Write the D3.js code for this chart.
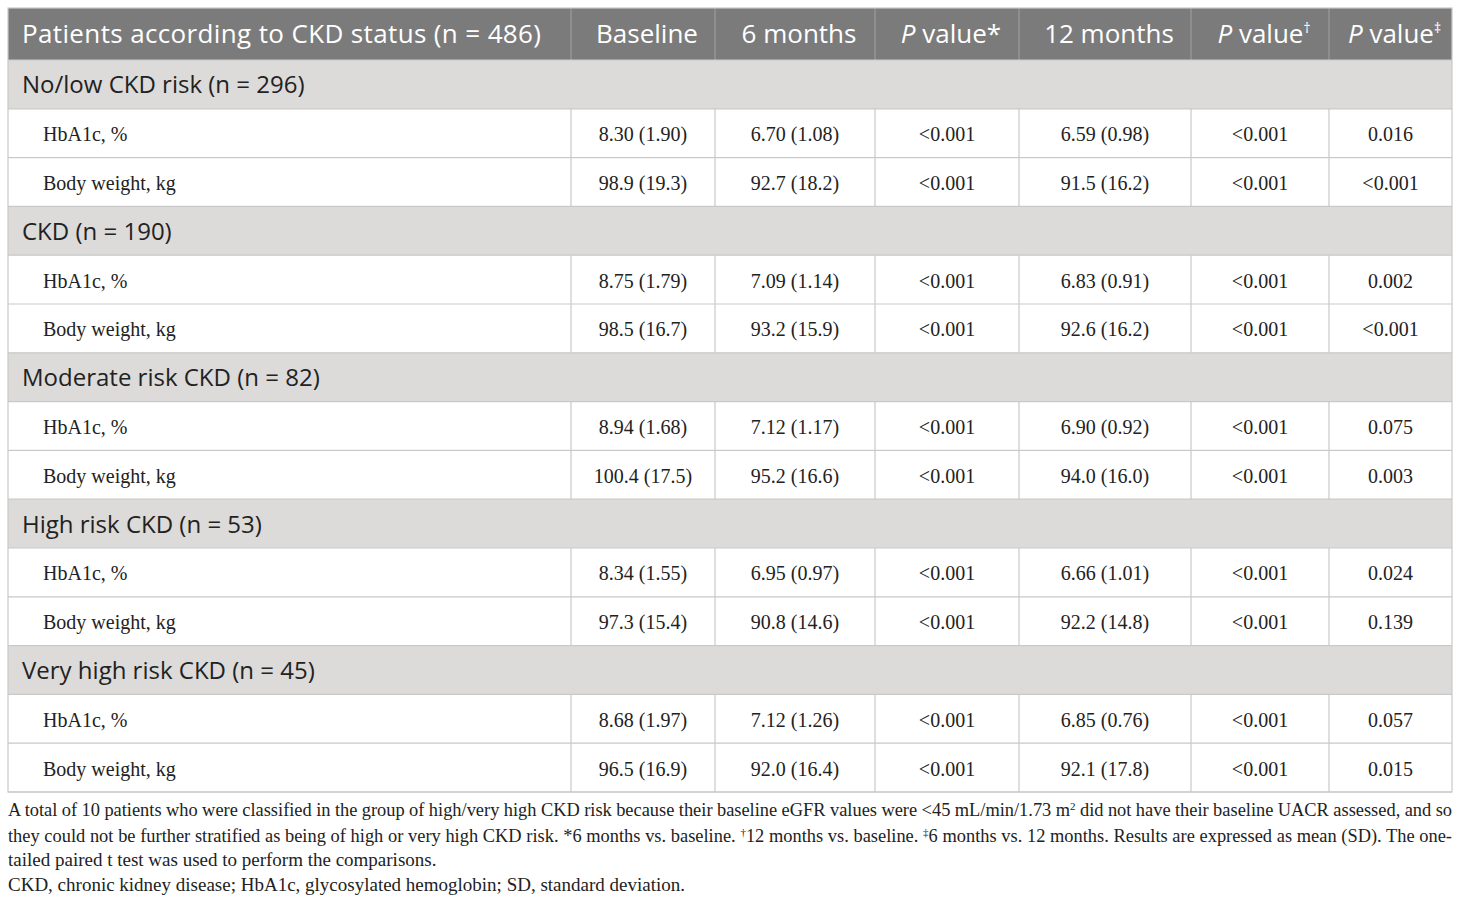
<!DOCTYPE html>
<html lang="en">
<head>
  <meta charset="UTF-8">
  <style>
    html, body { margin: 0; padding: 0; background: #fff; }
    .head-text { fill: #fff; font-family: "Open Sans", sans-serif; font-size: 26px; }
    .group-text { fill: #222; font-family: "Open Sans", sans-serif; font-size: 24px; }
    .cell-text { fill: #222; font-family: "Liberation Serif", serif; font-size: 20px; }
    .note-text { fill: #222; font-family: "Liberation Serif", serif; font-size: 19px; }
  </style>
  <script src="https://d3js.org/d3.v7.min.js"></script>
</head>
<body>
  <svg id="table" width="1460" height="903"></svg>

  <script>
    // Column headings
    const columns = ["Patients according to CKD status (n = 486)", "Baseline", "6 months",
                     "P value*", "12 months", "P value†", "P value‡"];

    // Patient groups, each with two measures
    const groups = ["No/low CKD risk (n = 296)", "CKD (n = 190)", "Moderate risk CKD (n = 82)",
                    "High risk CKD (n = 53)", "Very high risk CKD (n = 45)"];
    const measures = ["HbA1c, %", "Body weight, kg"];

    // Values, one entry per measure row (group by group)
    const baseline = ["8.30 (1.90)", "98.9 (19.3)", "8.75 (1.79)", "98.5 (16.7)", "8.94 (1.68)",
                      "100.4 (17.5)", "8.34 (1.55)", "97.3 (15.4)", "8.68 (1.97)", "96.5 (16.9)"];
    const sixMonths = ["6.70 (1.08)", "92.7 (18.2)", "7.09 (1.14)", "93.2 (15.9)", "7.12 (1.17)",
                       "95.2 (16.6)", "6.95 (0.97)", "90.8 (14.6)", "7.12 (1.26)", "92.0 (16.4)"];
    const pSix = ["<0.001", "<0.001", "<0.001", "<0.001", "<0.001",
                  "<0.001", "<0.001", "<0.001", "<0.001", "<0.001"];
    const twelveMonths = ["6.59 (0.98)", "91.5 (16.2)", "6.83 (0.91)", "92.6 (16.2)", "6.90 (0.92)",
                          "94.0 (16.0)", "6.66 (1.01)", "92.2 (14.8)", "6.85 (0.76)", "92.1 (17.8)"];
    const pTwelve = ["<0.001", "<0.001", "<0.001", "<0.001", "<0.001",
                     "<0.001", "<0.001", "<0.001", "<0.001", "<0.001"];
    const pSixTwelve = ["0.016", "<0.001", "0.002", "<0.001", "0.075",
                        "0.003", "0.024", "0.139", "0.057", "0.015"];

    // Footnote lines (|x| = superscript)
    const notes = [
      "A total of 10 patients who were classified in the group of high/very high CKD risk because their baseline eGFR values were <45 mL/min/1.73 m|2| did not have their baseline UACR assessed, and so",
      "they could not be further stratified as being of high or very high CKD risk. *6 months vs. baseline. |†|12 months vs. baseline. |‡|6 months vs. 12 months. Results are expressed as mean (SD). The one-",
      "tailed paired t test was used to perform the comparisons.",
      "CKD, chronic kidney disease; HbA1c, glycosylated hemoglobin; SD, standard deviation."
    ];

    const svg = d3.select("#table");

    // column edges of the table
    const edges = [8, 571, 715, 875, 1019, 1191, 1329, 1452];
    const left = edges[0], right = edges[edges.length - 1];
    const headTop = 8, headBottom = 60;

    // build body rows: a group row followed by its measure rows
    const rows = [];
    groups.forEach((g, gi) => {
      rows.push({type: "group", label: g});
      measures.forEach((m, mi) => {
        const k = gi * measures.length + mi;
        rows.push({type: "measure", label: m,
                   cells: [baseline[k], sixMonths[k], pSix[k], twelveMonths[k], pTwelve[k], pSixTwelve[k]]});
      });
    });

    const y = d3.scaleLinear().domain([0, rows.length]).range([headBottom, 792]);
    const rowH = y(1) - y(0);

    // header band
    svg.append("rect")
      .attr("x", left).attr("y", headTop)
      .attr("width", right - left).attr("height", headBottom - headTop)
      .attr("fill", "#7b7b7b");

    svg.selectAll(".head-sep")
      .data(edges.slice(1, -1))
      .enter().append("line")
      .attr("x1", d => d).attr("x2", d => d)
      .attr("y1", headTop).attr("y2", headBottom)
      .attr("stroke", "#9c9c9c").attr("stroke-width", 1.2);

    const head = svg.selectAll(".head-text")
      .data(columns)
      .enter().append("text")
      .attr("class", "head-text")
      .attr("x", (d, i) => i === 0 ? 22 : (edges[i] + edges[i + 1]) / 2 + 4)
      .attr("y", 43)
      .attr("text-anchor", (d, i) => i === 0 ? "start" : "middle")
      .attr("textLength", (d, i) => i === 0 ? 519 : null);

    head.each(function(d) {
      const t = d3.select(this);
      if (d.startsWith("P value")) {
        t.append("tspan").attr("font-style", "italic").text("P");
        const mark = d.slice(7);
        t.append("tspan").text(" value" + (mark === "*" ? "*" : ""));
        if (mark !== "*") {
          t.append("tspan").attr("font-size", "14px").attr("dy", -10).text(mark);
        }
      } else {
        t.text(d);
      }
    });

    // body rows
    const row = svg.selectAll(".row")
      .data(rows)
      .enter().append("g")
      .attr("class", "row")
      .attr("transform", (d, i) => `translate(0,${y(i)})`);

    row.filter(d => d.type === "group").append("rect")
      .attr("x", left).attr("width", right - left)
      .attr("height", rowH).attr("fill", "#dcdbd9");

    row.filter(d => d.type === "group").append("text")
      .attr("class", "group-text")
      .attr("x", 22).attr("y", rowH / 2 + 9)
      .text(d => d.label);

    const meas = row.filter(d => d.type === "measure");

    meas.append("text")
      .attr("class", "cell-text")
      .attr("x", 43).attr("y", rowH / 2 + 8)
      .text(d => d.label);

    meas.selectAll(".val")
      .data(d => d.cells)
      .enter().append("text")
      .attr("class", "cell-text val")
      .attr("x", (d, i) => (edges[i + 1] + edges[i + 2]) / 2)
      .attr("y", rowH / 2 + 8)
      .attr("text-anchor", "middle")
      .text(d => d);

    meas.selectAll(".vsep")
      .data(edges.slice(1, -1))
      .enter().append("line")
      .attr("x1", d => d).attr("x2", d => d)
      .attr("y1", 0).attr("y2", rowH)
      .attr("stroke", "#c9c9c9").attr("stroke-width", 1.2);

    // horizontal rules
    svg.selectAll(".hrule")
      .data(d3.range(rows.length + 1))
      .enter().append("line")
      .attr("x1", left).attr("x2", right)
      .attr("y1", d => y(d)).attr("y2", d => y(d))
      .attr("stroke", "#c9c9c9").attr("stroke-width", 1.2);

    // outer border
    svg.append("rect")
      .attr("x", left).attr("y", headTop)
      .attr("width", right - left).attr("height", y(rows.length) - headTop)
      .attr("fill", "none").attr("stroke", "#c9c9c9").attr("stroke-width", 1.2);

    // footnotes
    const noteY = [816, 842, 866, 891];
    const note = svg.selectAll(".note-text")
      .data(notes)
      .enter().append("text")
      .attr("class", "note-text")
      .attr("x", left)
      .attr("y", (d, i) => noteY[i])
      .style("font-size", (d, i) => i < 2 ? "18.4px" : null);

    note.each(function(d) {
      const t = d3.select(this);
      d.split("|").forEach((part, j) => {
        if (j % 2 === 1) {
          t.append("tspan").attr("font-size", "11px").attr("baseline-shift", "55%").text(part);
        } else {
          t.append("tspan").text(part);
        }
      });
    });

    // justify the first two lines by widening the word gaps
    note.filter((d, i) => i < 2).each(function(d) {
      const w = this.getComputedTextLength();
      const gaps = d.split(" ").length - 1;
      const extra = (right - left - w) / gaps;
      d3.select(this).attr("word-spacing", extra);
    });
  </script>
</body>
</html>
